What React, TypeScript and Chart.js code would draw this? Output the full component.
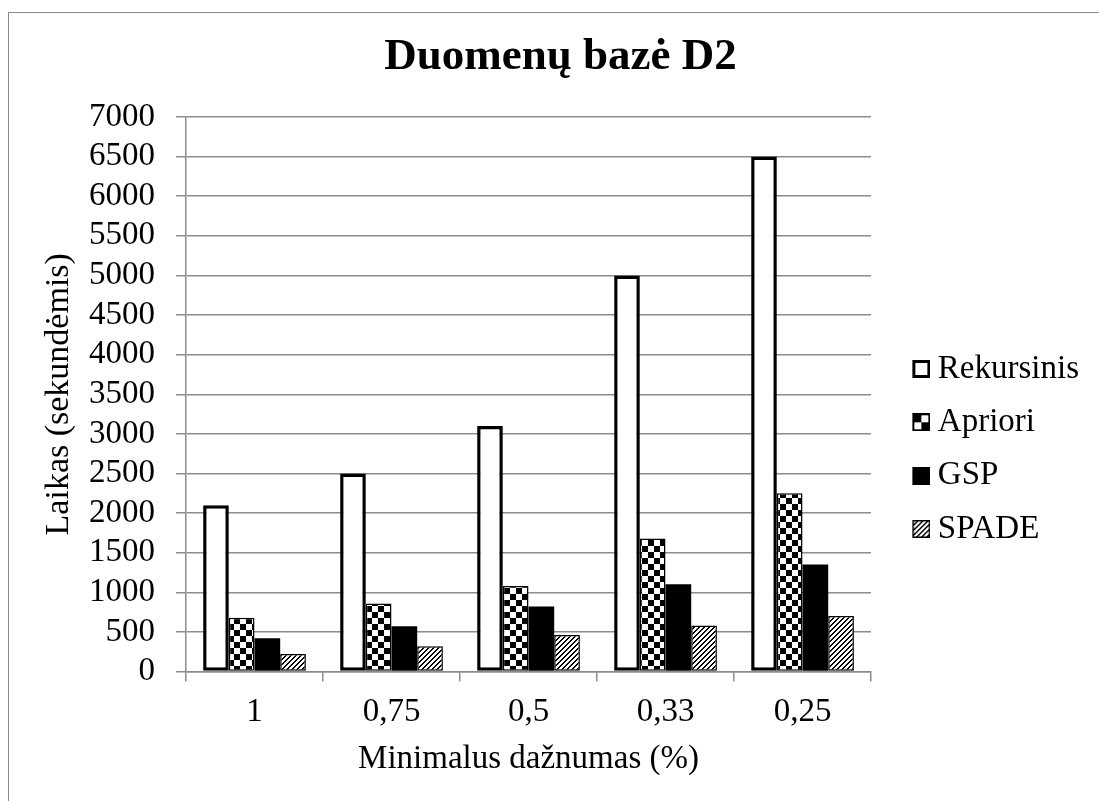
import React, { useEffect, useRef } from 'react';
import { Chart, registerables } from 'chart.js';

Chart.register(...registerables);

// ---- data ----
const categories = ['1', '0,75', '0,5', '0,33', '0,25'];
const seriesNames = ['Rekursinis', 'Apriori', 'GSP', 'SPADE'];
const rekursinis = [2100, 2500, 3100, 5000, 6500];
const apriori = [680, 860, 1080, 1680, 2250];
const gsp = [420, 570, 820, 1100, 1350];
const spade = [220, 320, 460, 580, 700];
const yMin = 0;
const yMax = 7000;
const yStep = 500;
const chartTitle = 'Duomenų bazė D2';
const xTitle = 'Minimalus dažnumas (%)';
const yTitle = 'Laikas (sekundėmis)';

// ---- styles ----
const FONT = "'Liberation Serif', 'Times New Roman', serif";
const GRID = '#8c8c8c';

function makeCanvas(w: number, h: number) {
  const c = document.createElement('canvas');
  c.width = w;
  c.height = h;
  return c;
}

function checkerTile() {
  const c = makeCanvas(12, 12);
  const g = c.getContext('2d')!;
  g.fillStyle = '#fff';
  g.fillRect(0, 0, 12, 12);
  g.fillStyle = '#000';
  g.fillRect(0, 0, 6, 6);
  g.fillRect(6, 6, 6, 6);
  return c;
}

function hatchTile() {
  const n = 5;
  const c = makeCanvas(n, n);
  const g = c.getContext('2d')!;
  const img = g.createImageData(n, n);
  for (let y = 0; y < n; y++) {
    for (let x = 0; x < n; x++) {
      const black = (x + y) % n < 2;
      const i = (y * n + x) * 4;
      const v = black ? 0 : 255;
      img.data[i] = v;
      img.data[i + 1] = v;
      img.data[i + 2] = v;
      img.data[i + 3] = 255;
    }
  }
  g.putImageData(img, 0, 0);
  return c;
}

function legendIcon(kind: string) {
  const c = makeCanvas(48, 18);
  const g = c.getContext('2d')!;
  const x0 = 30;
  if (kind === 'rek') {
    g.fillStyle = '#fff';
    g.fillRect(x0, 0, 18, 18);
    g.strokeStyle = '#000';
    g.lineWidth = 3;
    g.strokeRect(x0 + 1.5, 1.5, 15, 15);
  } else if (kind === 'apr') {
    g.fillStyle = '#fff';
    g.fillRect(x0, 0, 18, 18);
    g.fillStyle = '#000';
    g.fillRect(x0, 0, 9, 9);
    g.fillRect(x0 + 9, 9, 9, 9);
    g.strokeStyle = '#000';
    g.lineWidth = 2;
    g.strokeRect(x0 + 1, 1, 16, 16);
  } else if (kind === 'gsp') {
    g.fillStyle = '#000';
    g.fillRect(x0, 0, 18, 18);
  } else {
    const p = g.createPattern(hatchTile(), 'repeat')!;
    g.fillStyle = p;
    g.fillRect(x0, 0, 18, 18);
    g.strokeStyle = '#000';
    g.lineWidth = 1.5;
    g.strokeRect(x0 + 0.75, 0.75, 16.5, 16.5);
  }
  return c;
}

export default function App() {
  const ref = useRef<HTMLCanvasElement>(null);

  useEffect(() => {
    const canvas = ref.current!;
    const ctx = canvas.getContext('2d')!;
    const checker = ctx.createPattern(checkerTile(), 'repeat')!;
    const hatch = ctx.createPattern(hatchTile(), 'repeat')!;
    const icons = [legendIcon('rek'), legendIcon('apr'), legendIcon('gsp'), legendIcon('spade')];

    const chart = new Chart(canvas, {
      type: 'bar',
      data: {
        labels: categories,
        datasets: [
          {
            label: seriesNames[0],
            data: rekursinis,
            backgroundColor: '#ffffff',
            borderColor: '#000000',
            borderWidth: 3.5,
            borderSkipped: false,
          },
          {
            label: seriesNames[1],
            data: apriori,
            backgroundColor: checker,
            borderColor: '#000000',
            borderWidth: 1.5,
            borderSkipped: false,
          },
          {
            label: seriesNames[2],
            data: gsp,
            backgroundColor: '#000000',
            borderColor: '#000000',
            borderWidth: 0,
          },
          {
            label: seriesNames[3],
            data: spade,
            backgroundColor: hatch,
            borderColor: '#000000',
            borderWidth: 1.5,
            borderSkipped: false,
          },
        ],
      },
      options: {
        responsive: false,
        animation: false,
        devicePixelRatio: 1,
        datasets: {
          bar: { categoryPercentage: 0.75, barPercentage: 1 },
        },
        layout: { padding: { left: 32, right: 10, top: 0, bottom: 0 } },
        plugins: {
          title: {
            display: true,
            text: chartTitle,
            color: '#000',
            font: { family: FONT, size: 45, weight: 'bold' },
            padding: { top: 30.5, bottom: 32.5 },
          },
          legend: {
            position: 'right',
            align: 'center',
            title: { display: true, text: '', padding: { top: 82.5, bottom: 0 }, font: { size: 12 } },
            labels: {
              usePointStyle: true,
              pointStyleWidth: 30,
              color: '#000',
              font: { family: FONT, size: 33 },
              padding: 20.3,
              generateLabels: (ch: any) =>
                Chart.defaults.plugins.legend.labels
                  .generateLabels(ch)
                  .map((l: any, i: number) => ({ ...l, pointStyle: icons[i] })),
            },
          },
          tooltip: { enabled: false },
        },
        scales: {
          x: {
            type: 'category',
            offset: true,
            grid: {
              offset: true,
              drawOnChartArea: false,
              drawTicks: true,
              tickLength: 10,
              color: GRID,
              lineWidth: 1.5,
            },
            border: { display: true, color: GRID, width: 1.5 },
            ticks: {
              color: '#000',
              font: { family: FONT, size: 33 },
              padding: 11.2,
              maxRotation: 0,
              autoSkip: false,
            },
            title: {
              display: true,
              text: xTitle,
              color: '#000',
              font: { family: FONT, size: 33 },
              padding: { top: 0, bottom: 22.2 },
            },
            afterFit: (s: any) => {
              s.height = 129.5;
            },
          },
          y: {
            min: yMin,
            max: yMax,
            grid: {
              color: GRID,
              lineWidth: 1.5,
              drawTicks: true,
              tickLength: 10,
            },
            border: { display: true, color: GRID, width: 1.5 },
            ticks: {
              stepSize: yStep,
              autoSkip: false,
              color: '#000',
              font: { family: FONT, size: 33 },
              padding: 21,
              callback: (v: any) => String(v),
            },
            title: {
              display: true,
              text: yTitle,
              color: '#000',
              font: { family: FONT, size: 34 },
              padding: { top: 7, bottom: 0 },
            },
            afterFit: (s: any) => {
              s.width = 154;
            },
          },
        },
      } as any,
    });
    return () => chart.destroy();
  }, []);

  return (
    <div style={{ position: 'absolute', left: 0, top: 0, width: 1099, height: 801, overflow: 'hidden' }}>
      <div
        style={{
          position: 'absolute',
          left: 8,
          top: 12,
          right: 0,
          bottom: 0,
          borderLeft: '1px solid #8a8a8a',
          borderTop: '1px solid #8a8a8a',
        }}
      />
      <canvas ref={ref} width={1099} height={801} style={{ position: 'absolute', left: 0, top: 0 }} />
    </div>
  );
}
